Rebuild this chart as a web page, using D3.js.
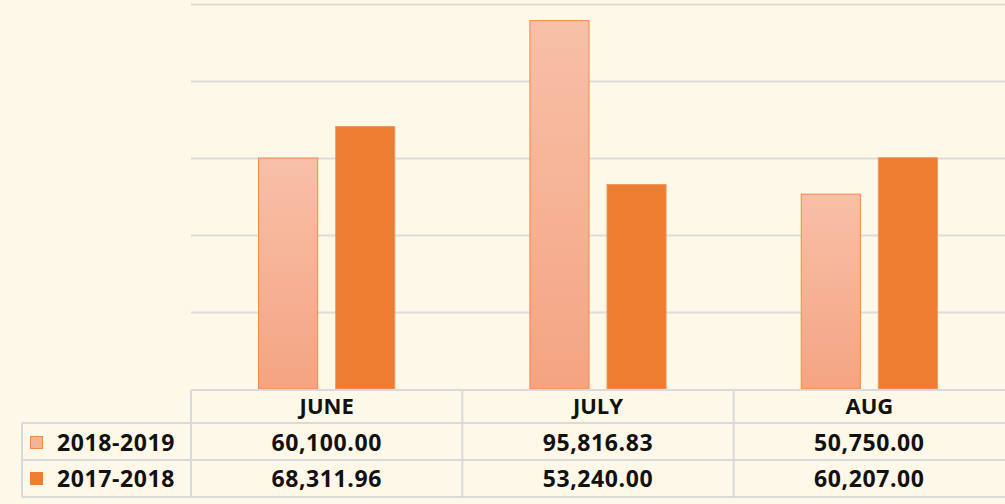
<!DOCTYPE html>
<html>
<head>
<meta charset="utf-8">
<script src="https://cdn.jsdelivr.net/npm/d3@7"></script>
<style>
  body { margin: 0; background: #fef8e8; }
  svg { display: block; }
  text { font-family: "Open Sans", sans-serif; font-weight: 700; fill: #111; }
</style>
</head>
<body>
<div id="chart"></div>
<script>
// data
var months = ["JUNE", "JULY", "AUG"]
var seriesNames = ["2018-2019", "2017-2018"]
var values2018_2019 = [60100.00, 95816.83, 50750.00]
var values2017_2018 = [68311.96, 53240.00, 60207.00]
var yTicks = [0, 20000, 40000, 60000, 80000, 100000]

var allSeries = [values2018_2019, values2017_2018]

const W = 1005, H = 504
const margin = {left: 191, right: 0, top: 4, bottom: 115}
const baseY = H - margin.bottom   // 389

const svg = d3.select("#chart")
  .append("svg")
  .attr("width", W)
  .attr("height", H)

svg.append("rect").attr("width", W).attr("height", H).attr("fill", "#fef8e8")

// gradient for light bars
const defs = svg.append("defs")
const grad = defs.append("linearGradient")
  .attr("id", "lightGrad")
  .attr("x1", 0).attr("y1", 0).attr("x2", 0).attr("y2", 1)
grad.append("stop").attr("offset", "0%").attr("stop-color", "#f8c0a8")
grad.append("stop").attr("offset", "100%").attr("stop-color", "#f4a482")

const x = d3.scaleBand()
  .domain(months)
  .range([margin.left, W])
  .padding(0)

const x1 = d3.scaleBand()
  .domain(seriesNames)
  .range([0, x.bandwidth()])
  .paddingInner(0.22)
  .paddingOuter(0.87)

const y = d3.scaleLinear()
  .domain([0, 100000])
  .range([baseY, margin.top])

// grid lines
const grid = svg.append("g")
  .attr("transform", `translate(${margin.left},0)`)
  .call(d3.axisLeft(y).tickValues(yTicks.slice(1)).tickSize(-(W - margin.left)).tickFormat(""))
grid.select(".domain").remove()
grid.selectAll("line").attr("stroke", "#dcdcdc").attr("stroke-width", 2)

// bars
const fills = ["url(#lightGrad)", "#ed7d31"]
const strokes = ["#ef8a4a", "#f09a60"]

seriesNames.forEach(function(s, si) {
  svg.append("g")
    .selectAll("rect")
    .data(allSeries[si])
    .join("rect")
      .attr("x", function(d, i) { return x(months[i]) + x1(s) + 0.5 })
      .attr("y", function(d) { return y(d) + 0.5 })
      .attr("width", x1.bandwidth() - 1)
      .attr("height", function(d) { return baseY - y(d) - 0.5 })
      .attr("fill", fills[si])
      .attr("stroke", strokes[si])
      .attr("stroke-width", 1)
})

// data table
const rowTops = [baseY + 1, 423, 460, 497]
const tableLeft = 22
const lineColor = "#d9d9d9"
const tbl = svg.append("g")

// horizontal lines
tbl.append("line").attr("x1", margin.left).attr("x2", W).attr("y1", rowTops[0]).attr("y2", rowTops[0])
for (let r = 1; r < rowTops.length; r++) {
  tbl.append("line").attr("x1", tableLeft).attr("x2", W).attr("y1", rowTops[r]).attr("y2", rowTops[r])
}
// vertical lines
tbl.append("line").attr("x1", tableLeft).attr("x2", tableLeft).attr("y1", rowTops[1]).attr("y2", rowTops[3])
months.forEach(function(m) {
  tbl.append("line").attr("x1", x(m)).attr("x2", x(m)).attr("y1", rowTops[0]).attr("y2", rowTops[3])
})
tbl.selectAll("line").attr("stroke", lineColor).attr("stroke-width", 2)

// header
svg.append("g").selectAll("text")
  .data(months)
  .join("text")
    .attr("x", function(d) { return x(d) + x.bandwidth() / 2 })
    .attr("y", 414)
    .attr("text-anchor", "middle")
    .attr("font-size", 22)
    .text(function(d) { return d })

const fmt = d3.format(",.2f")
const rowBase = [451, 487]

seriesNames.forEach(function(s, si) {
  svg.append("g").selectAll("text")
    .data(allSeries[si])
    .join("text")
      .attr("x", function(d, i) { return x(months[i]) + x.bandwidth() / 2 })
      .attr("y", rowBase[si])
      .attr("text-anchor", "middle")
      .attr("font-size", 23)
      .attr("letter-spacing", 0.6)
      .text(function(d) { return fmt(d) })

  // legend key
  svg.append("rect")
    .attr("x", 30.5).attr("y", rowBase[si] - 14.5)
    .attr("width", 12).attr("height", 12)
    .attr("fill", si == 0 ? "#f6b497" : "#ed7d31")
    .attr("stroke", si == 0 ? "#ef8a4a" : "#ed7d31")
  svg.append("text")
    .attr("x", 57)
    .attr("y", rowBase[si])
    .attr("font-size", 23)
    .attr("letter-spacing", 0.6)
    .text(s)
})
</script>
</body>
</html>
